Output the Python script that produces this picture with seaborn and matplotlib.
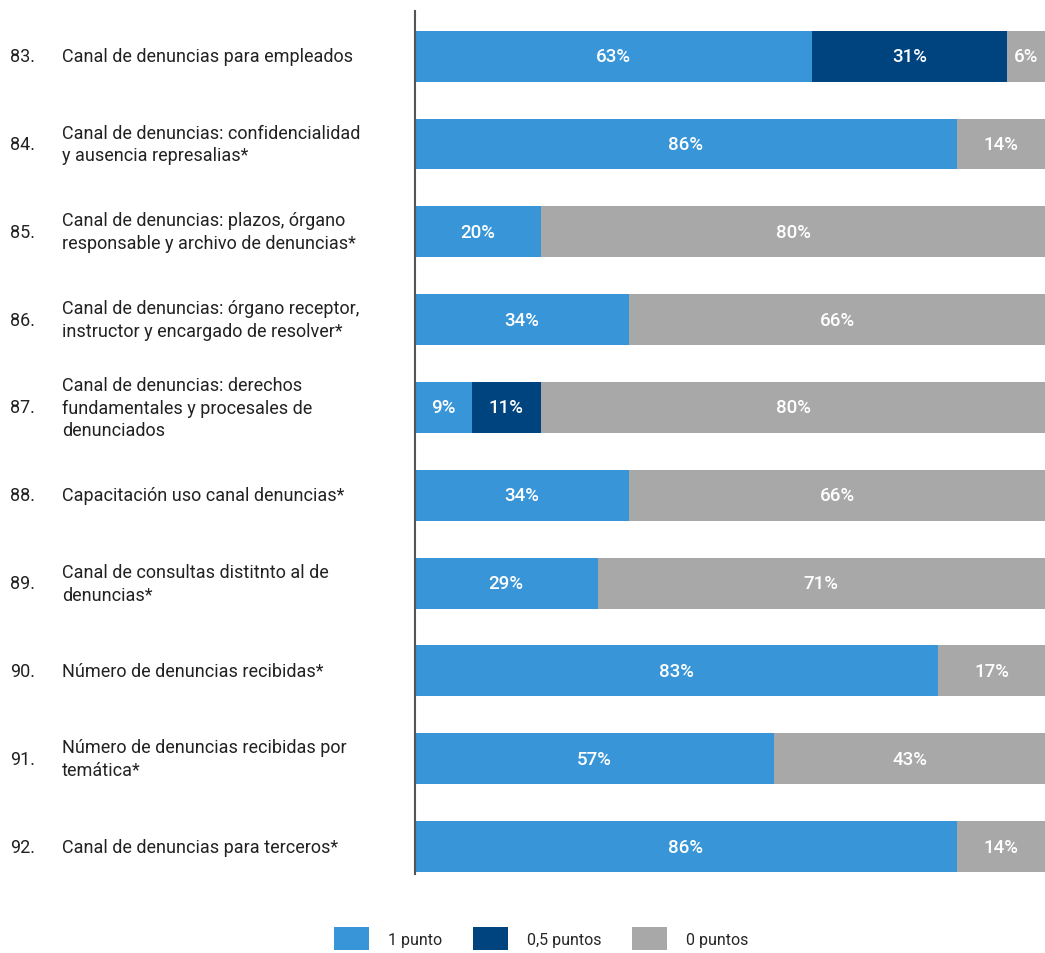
import numpy as np
import matplotlib.pyplot as plt
import matplotlib.transforms as mtransforms
from matplotlib.patches import Patch
from matplotlib import font_manager
import seaborn as sns

numbers = ['83.', '84.', '85.', '86.', '87.', '88.', '89.', '90.', '91.', '92.']
labels = [
    'Canal de denuncias para empleados',
    'Canal de denuncias: confidencialidad\ny ausencia represalias*',
    'Canal de denuncias: plazos, órgano\nresponsable y archivo de denuncias*',
    'Canal de denuncias: órgano receptor,\ninstructor y encargado de resolver*',
    'Canal de denuncias: derechos\nfundamentales y procesales de\ndenunciados',
    'Capacitación uso canal denuncias*',
    'Canal de consultas distitnto al de\ndenuncias*',
    'Número de denuncias recibidas*',
    'Número de denuncias recibidas por\ntemática*',
    'Canal de denuncias para terceros*',
]
one_point = [63, 86, 20, 34, 9, 34, 29, 83, 57, 86]
half_point = [31, 0, 0, 0, 11, 0, 0, 0, 0, 0]
zero_point = [6, 14, 80, 66, 80, 66, 71, 17, 43, 14]
series_names = ['1 punto', '0,5 puntos', '0 puntos']
colors = ['#3795d8', '#00447f', '#a8a8a8']

sns.set_style('white')
available = {f.name for f in font_manager.fontManager.ttflist}
if 'Liberation Sans Narrow' in available:
    family, size, size_pct, pct_weight = 'Liberation Sans Narrow', 16, 15.5, 'bold'
else:
    family, size, size_pct, pct_weight = 'Roboto', 13, 13.5, 'medium'
plt.rcParams['font.family'] = [family, 'DejaVu Sans']

fig = plt.figure(figsize=(10.45, 9.54), dpi=100)
ax = fig.add_axes([0.397, 0.083, 0.603, 0.904])

cats = [str(i) for i in range(len(numbers))]
one = np.array(one_point)
half = np.array(half_point)
zero = np.array(zero_point)
stacks = [one + half + zero, one + half, one]
for vals, col in zip(stacks, colors[::-1]):
    sns.barplot(x=vals, y=cats, orient='h', color=col, width=0.58,
                saturation=1, ax=ax, order=cats, linewidth=0)

# percentage labels
for i in range(len(cats)):
    left = 0
    for v in (one[i], half[i], zero[i]):
        if v > 0:
            ax.text(left + v / 2, i, f'{v}%', color='white', ha='center',
                    va='center', fontsize=size_pct, fontweight=pct_weight)
        left += v

ax.set_xlim(0, 100)
ax.set_ylim(9.31, -0.51)
ax.set_xticks([])
ax.set_yticks([])
ax.set_xlabel('')
ax.set_ylabel('')
for s in ['top', 'right', 'bottom']:
    ax.spines[s].set_visible(False)
ax.spines['left'].set_color('#555555')
ax.spines['left'].set_linewidth(1.5)

trans = mtransforms.blended_transform_factory(ax.transAxes, ax.transData)
for i, (num, lab) in enumerate(zip(numbers, labels)):
    ax.text(-0.643, i, num, transform=trans, ha='left', va='center',
            fontsize=size, color='#222222', clip_on=False)
    ax.text(-0.560, i, lab, transform=trans, ha='left', va='center',
            fontsize=size, color='#222222', linespacing=1.35, clip_on=False)

handles = [Patch(facecolor=c, edgecolor='none') for c in colors]
fig.legend(handles, series_names, loc='center', bbox_to_anchor=(0.518, 0.015),
           ncol=3, frameon=False, fontsize=size - 1.5, handlelength=2.2,
           handleheight=1.8, handletextpad=1.2, columnspacing=1.9)

fig.savefig('out.png', dpi=100)
